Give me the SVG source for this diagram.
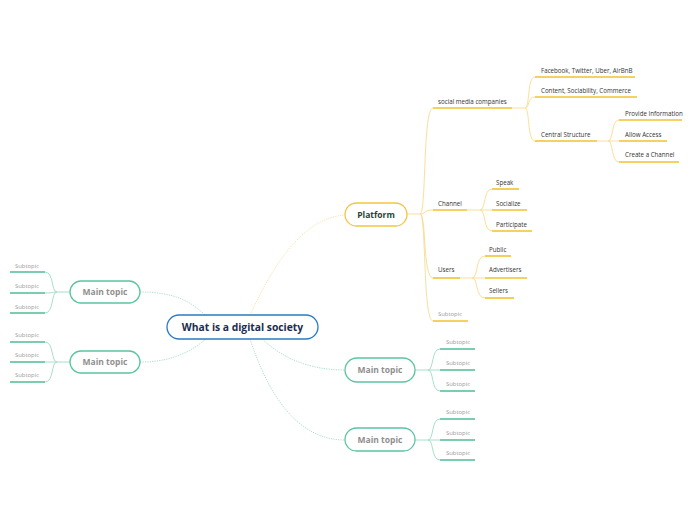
<svg xmlns="http://www.w3.org/2000/svg" width="696" height="520" viewBox="0 0 696 520">
<style>
.bg{fill:#ffffff}
.node{fill:#ffffff;stroke-width:1.3}
.c{stroke:#2b7bc4}
.y{stroke:#f3c443}
.g{stroke:#5cc4a2}
.t{font-family:"Open Sans","Noto Sans","Liberation Sans",sans-serif}
.ct{font-size:10.3px;font-weight:bold;fill:#1b2d52}
.pt{font-size:8.5px;font-weight:bold;fill:#1f4536}
.mt{font-size:8.5px;font-weight:bold;fill:#8f8f8f}
.st{font-size:6.2px;fill:#333333}
.sg{font-size:5.9px;fill:#9a9a9a}
.dy{fill:none;stroke:#fae3a8;stroke-width:1;stroke-dasharray:1.2 1.2}
.dg{fill:none;stroke:#a9dfcc;stroke-width:1;stroke-dasharray:1.2 1.2}
.ly{fill:none;stroke:#f9df9c;stroke-width:1}
.uy{fill:none;stroke:#f2c230;stroke-width:1.6}
.lg{fill:none;stroke:#a6e0cb;stroke-width:1}
.ug{fill:none;stroke:#4fbd94;stroke-width:1.6}
</style>
<rect class="bg" x="0" y="0" width="696" height="520"/>
<g id="connectors">
<path class="dy" d="M250 315 C270 272 300 218 345 215"/>
<path class="dg" d="M140 292 C172 292 190 300 206 316"/>
<path class="dg" d="M140 362 C172 362 190 352 206 339"/>
<path class="dg" d="M262 339 C285 360 312 370 345 370"/>
<path class="dg" d="M250 339 C270 400 300 440 345 440"/>
<path class="ly" d="M407 214 L420 214"/>
<path class="ly" d="M420 214 C426.5 214 422.6 108 433 108"/>
<path class="ly" d="M420 214 C426.5 214 422.6 210 433 210"/>
<path class="ly" d="M420 214 C426.5 214 422.6 278 433 278"/>
<path class="ly" d="M420 214 C426.5 214 422.6 321 433 321"/>
<path class="uy" d="M433 108 L512 108"/><path class="ly" d="M512 108 L525 108"/>
<path class="uy" d="M433 210 L467 210"/><path class="ly" d="M467 210 L480 210"/>
<path class="uy" d="M433 278 L460 278"/><path class="ly" d="M460 278 L472 278"/>
<path class="uy" d="M433 321 L468 321"/>
<path class="ly" d="M525 108 C530 108 527 77 535 77"/>
<path class="ly" d="M525 108 C530 108 527 97 535 97"/>
<path class="ly" d="M525 108 C530 108 527 141 535 141"/>
<path class="uy" d="M535 77 L635 77"/>
<path class="uy" d="M535 97 L637 97"/>
<path class="uy" d="M535 141 L597 141"/><path class="ly" d="M597 141 L608 141"/>
<path class="ly" d="M608 141 C613.5 141 611 120 619 120"/>
<path class="ly" d="M608 141 L619 141"/>
<path class="ly" d="M608 141 C613.5 141 611 162 619 162"/>
<path class="uy" d="M619 120 L682 120"/>
<path class="uy" d="M619 141 L667 141"/>
<path class="uy" d="M619 162 L679 162"/>
<path class="ly" d="M480 210 C486 210 483 189 492 189"/>
<path class="ly" d="M480 210 L492 210"/>
<path class="ly" d="M480 210 C486 210 483 231 492 231"/>
<path class="uy" d="M492 189 L519 189"/>
<path class="uy" d="M492 210 L527 210"/>
<path class="uy" d="M492 231 L532 231"/>
<path class="ly" d="M472 278 C478.5 278 475 256 485 256"/>
<path class="ly" d="M472 278 L485 278"/>
<path class="ly" d="M472 278 C478.5 278 475 298 485 298"/>
<path class="uy" d="M485 256 L511 256"/>
<path class="uy" d="M485 278 L527 278"/>
<path class="uy" d="M485 298 L514 298"/>
<path class="lg" d="M70 292 L57 292"/>
<path class="lg" d="M57 292 C51 292 54 272 45 272"/>
<path class="lg" d="M57 292 C51 292 54 293 45 293"/>
<path class="lg" d="M57 292 C51 292 54 313 45 313"/>
<path class="ug" d="M45 272 L10 272"/>
<path class="ug" d="M45 293 L10 293"/>
<path class="ug" d="M45 313 L10 313"/>
<path class="lg" d="M70 362 L57 362"/>
<path class="lg" d="M57 362 C51 362 54 342 45 342"/>
<path class="lg" d="M57 362 L45 362"/>
<path class="lg" d="M57 362 C51 362 54 382 45 382"/>
<path class="ug" d="M45 342 L10 342"/>
<path class="ug" d="M45 362 L10 362"/>
<path class="ug" d="M45 382 L10 382"/>
<path class="lg" d="M415 370 L428 370"/>
<path class="lg" d="M428 370 C434 370 431 349 440 349"/>
<path class="lg" d="M428 370 L440 370"/>
<path class="lg" d="M428 370 C434 370 431 391 440 391"/>
<path class="ug" d="M440 349 L475 349"/>
<path class="ug" d="M440 370 L475 370"/>
<path class="ug" d="M440 391 L475 391"/>
<path class="lg" d="M415 440 L428 440"/>
<path class="lg" d="M428 440 C434 440 431 419 440 419"/>
<path class="lg" d="M428 440 L440 440"/>
<path class="lg" d="M428 440 C434 440 431 460 440 460"/>
<path class="ug" d="M440 419 L475 419"/>
<path class="ug" d="M440 440 L475 440"/>
<path class="ug" d="M440 460 L475 460"/>
</g>
<g id="center">
<rect class="node c" x="167" y="315" width="151" height="24" rx="12"/>
<text class="t ct" x="242.5" y="330.5" text-anchor="middle">What is a digital society</text>
</g>
<g id="platform">
<rect class="node y" x="345" y="203" width="62" height="23" rx="11.5"/>
<text class="t pt" x="376" y="218" text-anchor="middle">Platform</text>
</g>
<g id="social-media-companies"><text class="t st" x="438" y="103.5">social media companies</text></g>
<g id="facebook"><text class="t st" x="541" y="72.5">Facebook, Twitter, Uber, AirBnB</text></g>
<g id="content"><text class="t st" x="541" y="92.5">Content, Sociability, Commerce</text></g>
<g id="central-structure"><text class="t st" x="541" y="136.5">Central Structure</text></g>
<g id="provide-information"><text class="t st" x="625" y="115.5">Provide Information</text></g>
<g id="allow-access"><text class="t st" x="625" y="136.5">Allow Access</text></g>
<g id="create-channel"><text class="t st" x="625" y="157">Create a Channel</text></g>
<g id="channel"><text class="t st" x="438" y="205.5">Channel</text></g>
<g id="speak"><text class="t st" x="496" y="185">Speak</text></g>
<g id="socialize"><text class="t st" x="496" y="205.5">Socialize</text></g>
<g id="participate"><text class="t st" x="496" y="226.5">Participate</text></g>
<g id="users"><text class="t st" x="438" y="272">Users</text></g>
<g id="public"><text class="t st" x="489" y="252">Public</text></g>
<g id="advertisers"><text class="t st" x="489" y="272">Advertisers</text></g>
<g id="sellers"><text class="t st" x="489" y="293">Sellers</text></g>
<g id="platform-subtopic"><text class="t sg" x="438" y="316">Subtopic</text></g>
<g id="main-topic-1">
<rect class="node g" x="70" y="281" width="70" height="22" rx="11"/>
<text class="t mt" x="105" y="295" text-anchor="middle">Main topic</text>
</g>
<g id="mt1-sub1"><text class="t sg" x="15" y="267.5">Subtopic</text></g>
<g id="mt1-sub2"><text class="t sg" x="15" y="288">Subtopic</text></g>
<g id="mt1-sub3"><text class="t sg" x="15" y="308.5">Subtopic</text></g>
<g id="main-topic-2">
<rect class="node g" x="70" y="351" width="70" height="22" rx="11"/>
<text class="t mt" x="105" y="365" text-anchor="middle">Main topic</text>
</g>
<g id="mt2-sub1"><text class="t sg" x="15" y="337">Subtopic</text></g>
<g id="mt2-sub2"><text class="t sg" x="15" y="357">Subtopic</text></g>
<g id="mt2-sub3"><text class="t sg" x="15" y="377">Subtopic</text></g>
<g id="main-topic-3">
<rect class="node g" x="345" y="358" width="70" height="24" rx="12"/>
<text class="t mt" x="380" y="373" text-anchor="middle">Main topic</text>
</g>
<g id="mt3-sub1"><text class="t sg" x="446" y="344">Subtopic</text></g>
<g id="mt3-sub2"><text class="t sg" x="446" y="365">Subtopic</text></g>
<g id="mt3-sub3"><text class="t sg" x="446" y="386">Subtopic</text></g>
<g id="main-topic-4">
<rect class="node g" x="345" y="428" width="70" height="23" rx="11.5"/>
<text class="t mt" x="380" y="443" text-anchor="middle">Main topic</text>
</g>
<g id="mt4-sub1"><text class="t sg" x="446" y="414">Subtopic</text></g>
<g id="mt4-sub2"><text class="t sg" x="446" y="435">Subtopic</text></g>
<g id="mt4-sub3"><text class="t sg" x="446" y="455">Subtopic</text></g>
</svg>
